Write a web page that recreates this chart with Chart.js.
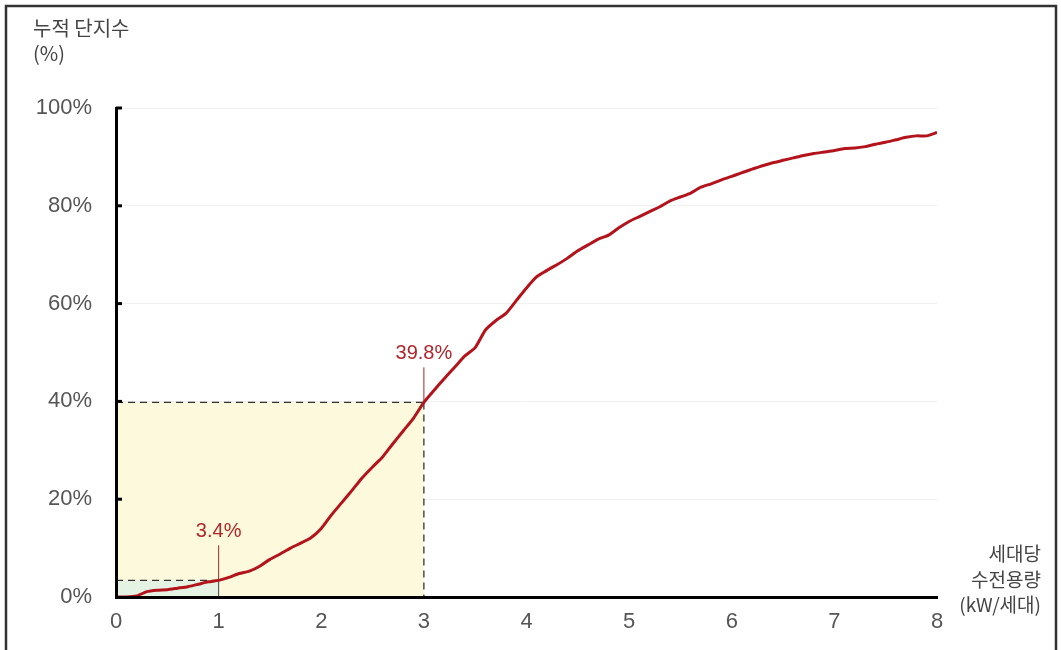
<html><head><meta charset="utf-8">
<script src="https://cdn.jsdelivr.net/npm/chart.js@4"></script>
<style>
 body { margin:0; background:#fff; }
 #wrap { position:relative; width:1061px; height:650px; }
</style>
</head>
<body>
<div id="wrap"><canvas id="myChart" width="1061" height="650"></canvas></div>
<script>
// 세대당 수전용량 (kW/세대)
var capacity = [0,0.1,0.2,0.3,0.4,0.5,0.6,0.7,0.8,0.9,
                1.0,1.1,1.2,1.3,1.4,1.5,1.6,1.7,1.8,1.9,
                2.0,2.1,2.2,2.3,2.4,2.5,2.6,2.7,2.8,2.9,
                3.0,3.1,3.2,3.3,3.4,3.5,3.6,3.7,3.8,3.9,
                4.0,4.1,4.2,4.3,4.4,4.5,4.6,4.7,4.8,4.9,
                5.0,5.1,5.2,5.3,5.4,5.5,5.6,5.7,5.8,5.9,
                6.0,6.1,6.2,6.3,6.4,6.5,6.6,6.7,6.8,6.9,
                7.0,7.1,7.2,7.3,7.4,7.5,7.6,7.7,7.8,7.9,8.0];
// 누적 단지수 (%)
var cumulative = [0,0,0.2,1.1,1.4,1.5,1.8,2.1,2.6,3.1,
                  3.4,4.0,4.8,5.3,6.3,7.7,8.8,10.0,11.0,12.1,
                  14.0,16.8,19.3,21.8,24.4,26.6,28.7,31.4,34.0,36.6,
                  39.8,42.3,44.7,47.0,49.3,51.0,54.6,56.5,58.0,60.6,
                  63.2,65.5,66.8,68.0,69.3,70.8,72.0,73.2,74.0,75.5,
                  76.8,77.8,78.8,79.8,81.0,81.8,82.6,83.8,84.5,85.3,
                  86.0,86.8,87.5,88.2,88.8,89.3,89.8,90.3,90.7,91.0,
                  91.3,91.7,91.8,92.1,92.6,93.0,93.5,94.0,94.3,94.3,95.0];
var xTicks = [0,1,2,3,4,5,6,7,8];
var yTicks = [0,20,40,60,80,100];
// highlighted points: [x, y%]
var marks = [[1, 3.4], [3, 39.8]];
var markLabels = ['3.4%', '39.8%'];

var yAxisTitle = ['누적 단지수', '(%)'];
var xAxisTitle = ['세대당', '수전용량', '(kW/세대)'];

var pts = capacity.map(function(c, i){ return {x: c, y: cumulative[i]}; });

var decor = {
  id: 'decor',
  beforeDatasetsDraw: function(chart) {
    var c = chart.ctx, xs = chart.scales.x, ys = chart.scales.y;
    var x0 = xs.getPixelForValue(0), yb = ys.getPixelForValue(0);
    // shaded boxes
    c.save();
    c.fillStyle = '#fdf9dd';
    var x3 = xs.getPixelForValue(marks[1][0]), y3 = ys.getPixelForValue(marks[1][1]);
    c.fillRect(x0, y3, x3 - x0, yb - y3);
    c.fillStyle = '#e4f3e3';
    var x1 = xs.getPixelForValue(marks[0][0]), y1 = ys.getPixelForValue(marks[0][1]);
    c.fillRect(x0, y1, x1 - x0, yb - y1);
    // dashed guides
    c.strokeStyle = '#333';
    c.lineWidth = 1.3;
    c.setLineDash([7, 5]);
    c.beginPath();
    c.moveTo(x0, y3); c.lineTo(x3, y3);
    c.moveTo(x3, y3); c.lineTo(x3, yb);
    c.moveTo(x0, y1); c.lineTo(x1, y1);
    c.stroke();
    c.setLineDash([]);
    c.lineWidth = 1;
    c.strokeStyle = '#444';
    c.beginPath();
    c.moveTo(x1, y1); c.lineTo(x1, yb);
    c.stroke();
    c.restore();
  },
  afterDatasetsDraw: function(chart) {
    var c = chart.ctx, xs = chart.scales.x, ys = chart.scales.y;
    c.save();
    marks.forEach(function(m, i) {
      var px = xs.getPixelForValue(m[0]), py = ys.getPixelForValue(m[1]);
      c.strokeStyle = '#9e2a2a';
      c.lineWidth = 1;
      c.beginPath();
      c.moveTo(px, py); c.lineTo(px, py - 35);
      c.stroke();
      c.fillStyle = '#b0262a';
      c.font = '20px "Liberation Sans", "Noto Sans CJK KR", sans-serif';
      c.textAlign = 'center';
      c.textBaseline = 'bottom';
      c.fillText(markLabels[i], px, py - 39);
    });
    c.restore();
  },
  afterDraw: function(chart) {
    var c = chart.ctx, ys = chart.scales.y, xs = chart.scales.x;
    var ax = xs.getPixelForValue(0);
    c.save();
    // inward ticks on the y axis
    c.strokeStyle = '#000';
    c.lineWidth = 3;
    yTicks.forEach(function(t) {
      if (t === 0) return;
      var py = ys.getPixelForValue(t);
      c.beginPath(); c.moveTo(ax, py); c.lineTo(ax + 6, py); c.stroke();
    });
    // axis titles
    c.fillStyle = '#444';
    c.font = '20px "Noto Sans CJK KR", sans-serif';
    c.textAlign = 'left';
    c.textBaseline = 'middle';
    c.fillText(yAxisTitle[0], 33, 28);
    c.fillText(yAxisTitle[1], 33, 53);
    c.font = '19px "Noto Sans CJK KR", sans-serif';
    c.textAlign = 'right';
    c.fillText(xAxisTitle[0], 1041, 554);
    c.fillText(xAxisTitle[1], 1041, 580);
    c.fillText(xAxisTitle[2], 1041, 605);
    // outer frame
    c.strokeStyle = '#333';
    c.lineWidth = 2.5;
    c.beginPath();
    c.moveTo(6, 650); c.lineTo(6, 6); c.lineTo(1056, 6); c.lineTo(1056, 650);
    c.stroke();
    c.restore();
  }
};

var ctx = document.getElementById('myChart');
var myChart = new Chart(ctx, {
  type: 'scatter',
  data: {
    datasets: [{
      data: pts,
      showLine: true,
      borderColor: '#b3141c',
      borderWidth: 3,
      pointRadius: 0,
      tension: 0.2
    }]
  },
  options: {
    responsive: false,
    animation: false,
    layout: { padding: { left: 0, right: 124, top: 108, bottom: 0 } },
    plugins: { legend: { display: false }, tooltip: { enabled: false } },
    scales: {
      x: {
        type: 'linear', min: 0, max: 8,
        afterBuildTicks: function(s){ s.ticks = xTicks.map(function(v){ return {value: v}; }); },
        afterFit: function(s){ s.height = 53; },
        grid: { display: false, drawTicks: false },
        border: { display: true, color: '#000', width: 3, z: 1 },
        ticks: { color: '#555', padding: 12, font: { family: '"Liberation Sans", sans-serif', size: 22 } }
      },
      y: {
        min: 0, max: 100,
        afterBuildTicks: function(s){ s.ticks = yTicks.map(function(v){ return {value: v}; }); },
        afterFit: function(s){ s.width = 116; },
        grid: { color: '#f0f0f0', lineWidth: 1, drawTicks: false },
        border: { display: true, color: '#000', width: 3, z: 1 },
        ticks: { color: '#555', padding: 24, font: { family: '"Liberation Sans", sans-serif', size: 22 },
                 callback: function(v){ return v + '%'; } }
      }
    }
  },
  plugins: [decor]
});
</script>
</body></html>
